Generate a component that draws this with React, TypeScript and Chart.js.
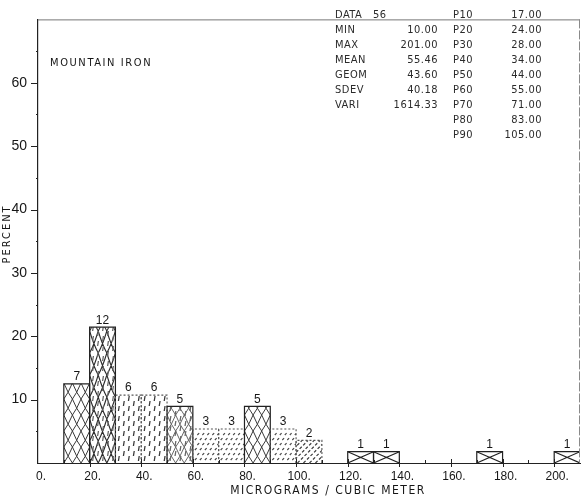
import React, { useEffect, useRef } from 'react';
import { Chart, registerables } from 'chart.js';

Chart.register(...registerables);

// Histogram bins (lower edge, µg/m³) and sample counts per bin
const binStarts = [10, 20, 30, 40, 50, 60, 70, 80, 90, 100, 120, 130, 170, 200];
const binWidth = 10;
const counts = [7, 12, 6, 6, 5, 3, 3, 5, 3, 2, 1, 1, 1, 1];

// Fill and edge style of each bar
const barFills = ['lattice', 'lattice-tall', 'dash', 'dash', 'lattice-light', 'dots', 'dots', 'lattice', 'dots', 'diag', 'cross', 'cross', 'cross', 'cross'];
const barEdges = ['solid', 'solid', 'dotted', 'dotted', 'solid', 'dotted', 'dotted', 'solid', 'dotted', 'dotted', 'solid', 'solid', 'solid', 'solid'];

const xTickValues = [0, 20, 40, 60, 80, 100, 120, 140, 160, 180, 200];
const xMax = 210;
const yMax = 70;

const siteName = 'MOUNTAIN IRON';
const xTitle = 'MICROGRAMS / CUBIC METER';
const yTitle = 'PERCENT';

const statNames = ['DATA', 'MIN', 'MAX', 'MEAN', 'GEOM', 'SDEV', 'VARI'];
const statValues = ['56', '10.00', '201.00', '55.46', '43.60', '40.18', '1614.33'];
const pctNames = ['P10', 'P20', 'P30', 'P40', 'P50', 'P60', 'P70', 'P80', 'P90'];
const pctValues = ['17.00', '24.00', '28.00', '34.00', '44.00', '55.00', '71.00', '83.00', '105.00'];

const SANS = "'Liberation Sans', Arial, sans-serif";
const NARROW = "'Liberation Sans Narrow', 'DejaVu Sans Condensed', 'Arial Narrow', sans-serif";
const INK = '#161616';

type Ctx = CanvasRenderingContext2D;

function drawLattice(ctx: Ctx, l: number, t: number, w: number, b: number, cellH: number, color: string, lw: number) {
  const cols = 3;
  const cw = w / cols;
  ctx.strokeStyle = color;
  ctx.lineWidth = lw;
  ctx.beginPath();
  for (let c = 0; c < cols; c++) {
    const x0 = l + c * cw;
    const x1 = x0 + cw;
    for (let yy = b; yy > t - cellH; yy -= cellH) {
      ctx.moveTo(x0, yy);
      ctx.quadraticCurveTo(x0 + cw * 0.5, yy - cellH * 0.35, x1, yy - cellH);
      ctx.moveTo(x1, yy);
      ctx.quadraticCurveTo(x1 - cw * 0.5, yy - cellH * 0.35, x0, yy - cellH);
    }
  }
  ctx.stroke();
}

function drawDashes(ctx: Ctx, l: number, t: number, w: number, b: number, color: string) {
  ctx.strokeStyle = color;
  ctx.lineWidth = 1.3;
  ctx.beginPath();
  let c = 0;
  for (let x = l + 3; x < l + w; x += 5, c++) {
    const off = (c % 2) * 5;
    for (let yy = b - 2 - off; yy > t + 1; yy -= 10) {
      ctx.moveTo(x, yy);
      ctx.lineTo(x + 0.8, yy - 5);
    }
  }
  ctx.stroke();
}

function drawDots(ctx: Ctx, l: number, t: number, w: number, b: number, color: string) {
  ctx.strokeStyle = color;
  ctx.lineWidth = 1.2;
  ctx.beginPath();
  let r = 0;
  for (let yy = b - 3; yy > t + 1; yy -= 5, r++) {
    const off = (r % 2) * 2.5;
    for (let x = l + 2 + off; x < l + w - 1; x += 5) {
      ctx.moveTo(x, yy);
      ctx.lineTo(x + 1.8, yy - 1.8);
    }
  }
  ctx.stroke();
}

function drawDiag(ctx: Ctx, l: number, t: number, w: number, b: number, color: string) {
  ctx.strokeStyle = color;
  ctx.lineWidth = 1.2;
  ctx.setLineDash([3, 2]);
  ctx.beginPath();
  const h = b - t;
  for (let s = -h; s < w; s += 6) {
    ctx.moveTo(l + s, b);
    ctx.lineTo(l + s + h, t);
  }
  ctx.stroke();
  ctx.setLineDash([]);
}

function drawCross(ctx: Ctx, l: number, t: number, w: number, b: number, color: string) {
  ctx.strokeStyle = color;
  ctx.lineWidth = 1.2;
  ctx.beginPath();
  ctx.moveTo(l, t);
  ctx.lineTo(l + w, b);
  ctx.moveTo(l, b);
  ctx.lineTo(l + w, t);
  ctx.stroke();
}

const histogramArt = {
  id: 'histogramArt',
  beforeDraw(chart: Chart) {
    const ctx = chart.ctx;
    ctx.save();
    ctx.fillStyle = '#ffffff';
    ctx.fillRect(0, 0, chart.width, chart.height);
    ctx.restore();
  },
  afterDatasetsDraw(chart: Chart) {
    const ctx = chart.ctx;
    const meta = chart.getDatasetMeta(0);
    const area = chart.chartArea;
    meta.data.forEach((el: any, i: number) => {
      const p = el.getProps(['x', 'y', 'base', 'width'], true);
      const l = Math.max(p.x - p.width / 2, area.left);
      const r = Math.min(p.x + p.width / 2, area.right);
      const w = r - l;
      const t = p.y;
      const b = p.base;
      ctx.save();
      ctx.beginPath();
      ctx.rect(l, t, w, b - t);
      ctx.clip();
      const fill = barFills[i];
      if (fill === 'lattice') drawLattice(ctx, l, t, w, b, 16, '#3a3a3a', 1);
      else if (fill === 'lattice-tall') {
        drawLattice(ctx, l, t, w, b, 22, '#2e2e2e', 1.1);
        drawDashes(ctx, l, t, w, b, '#666');
      } else if (fill === 'lattice-light') {
        drawLattice(ctx, l, t, w, b, 16, '#666', 1);
        drawDashes(ctx, l, t, w, b, '#666');
      } else if (fill === 'dash') drawDashes(ctx, l, t, w, b, '#3a3a3a');
      else if (fill === 'dots') drawDots(ctx, l, t, w, b, '#4a4a4a');
      else if (fill === 'diag') drawDiag(ctx, l, t, w, b, '#3a3a3a');
      else if (fill === 'cross') drawCross(ctx, l, t, w, b, '#222');
      ctx.restore();

      // bar edge (left, top, right)
      ctx.save();
      const solid = barEdges[i] === 'solid';
      ctx.strokeStyle = solid ? '#222' : '#555';
      ctx.lineWidth = solid ? 1.2 : 1.1;
      if (!solid) ctx.setLineDash([2, 2]);
      ctx.beginPath();
      ctx.moveTo(l, b);
      ctx.lineTo(l, t);
      ctx.lineTo(r, t);
      if (r < area.right - 0.5) ctx.lineTo(r, b);
      ctx.stroke();
      ctx.restore();

      // count above the bar
      ctx.save();
      ctx.fillStyle = INK;
      ctx.font = `12px ${SANS}`;
      ctx.textAlign = 'center';
      ctx.textBaseline = 'bottom';
      ctx.fillText(String(counts[i]), p.x, t - 1);
      ctx.restore();
    });
  },
  afterDraw(chart: Chart) {
    const ctx = chart.ctx;
    const area = chart.chartArea;
    const xs = chart.scales.x;
    const ys = chart.scales.y;
    ctx.save();

    // top and right frame
    ctx.strokeStyle = '#777';
    ctx.lineWidth = 1;
    ctx.beginPath();
    ctx.moveTo(area.left, area.top + 0.5);
    ctx.lineTo(area.right, area.top + 0.5);
    ctx.stroke();
    ctx.strokeStyle = '#8a8a8a';
    ctx.setLineDash([9, 2]);
    ctx.beginPath();
    ctx.moveTo(area.right - 0.5, area.top);
    ctx.lineTo(area.right - 0.5, area.bottom);
    ctx.stroke();
    ctx.setLineDash([]);

    // y-axis tick marks
    ctx.strokeStyle = '#222';
    ctx.lineWidth = 1;
    ctx.beginPath();
    for (let v = 5; v < yMax; v += 5) {
      const y = Math.round(ys.getPixelForValue(v)) + 0.5;
      const len = v % 10 === 0 ? 7 : 2;
      ctx.moveTo(area.left - len, y);
      ctx.lineTo(area.left, y);
    }
    ctx.stroke();

    // x-axis tick marks
    ctx.beginPath();
    for (let v = 10; v <= 200; v += 10) {
      const x = Math.round(xs.getPixelForValue(v)) + 0.5;
      if (v % 20 === 0) {
        ctx.moveTo(x, area.bottom - 4);
        ctx.lineTo(x, area.bottom + 4);
      } else {
        ctx.moveTo(x, area.bottom - 3);
        ctx.lineTo(x, area.bottom);
      }
    }
    ctx.stroke();

    // site name
    ctx.fillStyle = INK;
    ctx.textBaseline = 'middle';
    ctx.textAlign = 'left';
    ctx.font = `11px ${NARROW}`;
    (ctx as any).letterSpacing = '1.6px';
    ctx.fillText(siteName, 50, 63);

    // statistics table
    ctx.fillStyle = '#2a2a2a';
    (ctx as any).letterSpacing = '0.5px';
    const rowY = (i: number) => 15 + i * 15;
    statNames.forEach((n, i) => {
      ctx.textAlign = 'left';
      ctx.fillText(n, 335, rowY(i));
      if (i === 0) {
        ctx.fillText(statValues[i], 373, rowY(i));
      } else {
        ctx.textAlign = 'right';
        ctx.fillText(statValues[i], 438, rowY(i));
      }
    });
    pctNames.forEach((n, i) => {
      ctx.textAlign = 'left';
      ctx.fillText(n, 453, rowY(i));
      ctx.textAlign = 'right';
      ctx.fillText(pctValues[i], 542, rowY(i));
    });

    // axis titles
    ctx.fillStyle = INK;
    ctx.font = `12px ${NARROW}`;
    (ctx as any).letterSpacing = '1.5px';
    ctx.textAlign = 'center';
    ctx.fillText(xTitle, 328, 491);

    ctx.translate(7, 234);
    ctx.rotate(-Math.PI / 2);
    ctx.font = `11px ${NARROW}`;
    (ctx as any).letterSpacing = '2px';
    ctx.fillText(yTitle, 0, 0);
    ctx.restore();
  },
};

export default function App() {
  const canvasRef = useRef<HTMLCanvasElement | null>(null);

  useEffect(() => {
    const canvas = canvasRef.current;
    if (!canvas) return;
    const total = counts.reduce((a, b) => a + b, 0);
    const points = binStarts.map((s, i) => ({ x: s + binWidth / 2, y: (counts[i] / total) * 100 }));

    const chart = new Chart(canvas, {
      type: 'bar',
      data: {
        datasets: [
          {
            data: points as any,
            backgroundColor: 'rgba(0,0,0,0)',
            borderWidth: 0,
            barPercentage: 1,
            categoryPercentage: 1,
          },
        ],
      },
      options: {
        responsive: false,
        animation: false,
        devicePixelRatio: 1,
        layout: { padding: { left: 0, top: 10, right: 1, bottom: 0 } },
        plugins: { legend: { display: false }, tooltip: { enabled: false } },
        scales: {
          x: {
            type: 'linear',
            min: 0,
            max: xMax,
            offset: false,
            afterBuildTicks: (s: any) => {
              s.ticks = xTickValues.map((v) => ({ value: v }));
            },
            afterFit: (s: any) => {
              s.height = 39;
            },
            grid: { display: false, drawTicks: false },
            border: { display: true, color: '#222', width: 1 },
            ticks: {
              autoSkip: false,
              maxRotation: 0,
              padding: 6,
              labelOffset: 3,
              color: INK,
              font: { family: SANS, size: 12 },
              callback: (v: any) => `${v}.`,
            },
          },
          y: {
            min: 0,
            max: yMax,
            afterFit: (s: any) => {
              s.width = 38;
            },
            grid: { display: false, drawTicks: false },
            border: { display: true, color: '#222', width: 1.2 },
            ticks: {
              stepSize: 10,
              padding: 11,
              color: INK,
              font: { family: SANS, size: 14 },
              callback: (v: any) => (v === 0 || v === yMax ? '' : String(v)),
            },
          },
        },
      },
      plugins: [histogramArt],
    });
    return () => chart.destroy();
  }, []);

  return (
    <div style={{ position: 'fixed', left: 0, top: 0, width: 581, height: 502, background: '#fff' }}>
      <canvas ref={canvasRef} width={581} height={502} style={{ display: 'block' }} />
    </div>
  );
}
